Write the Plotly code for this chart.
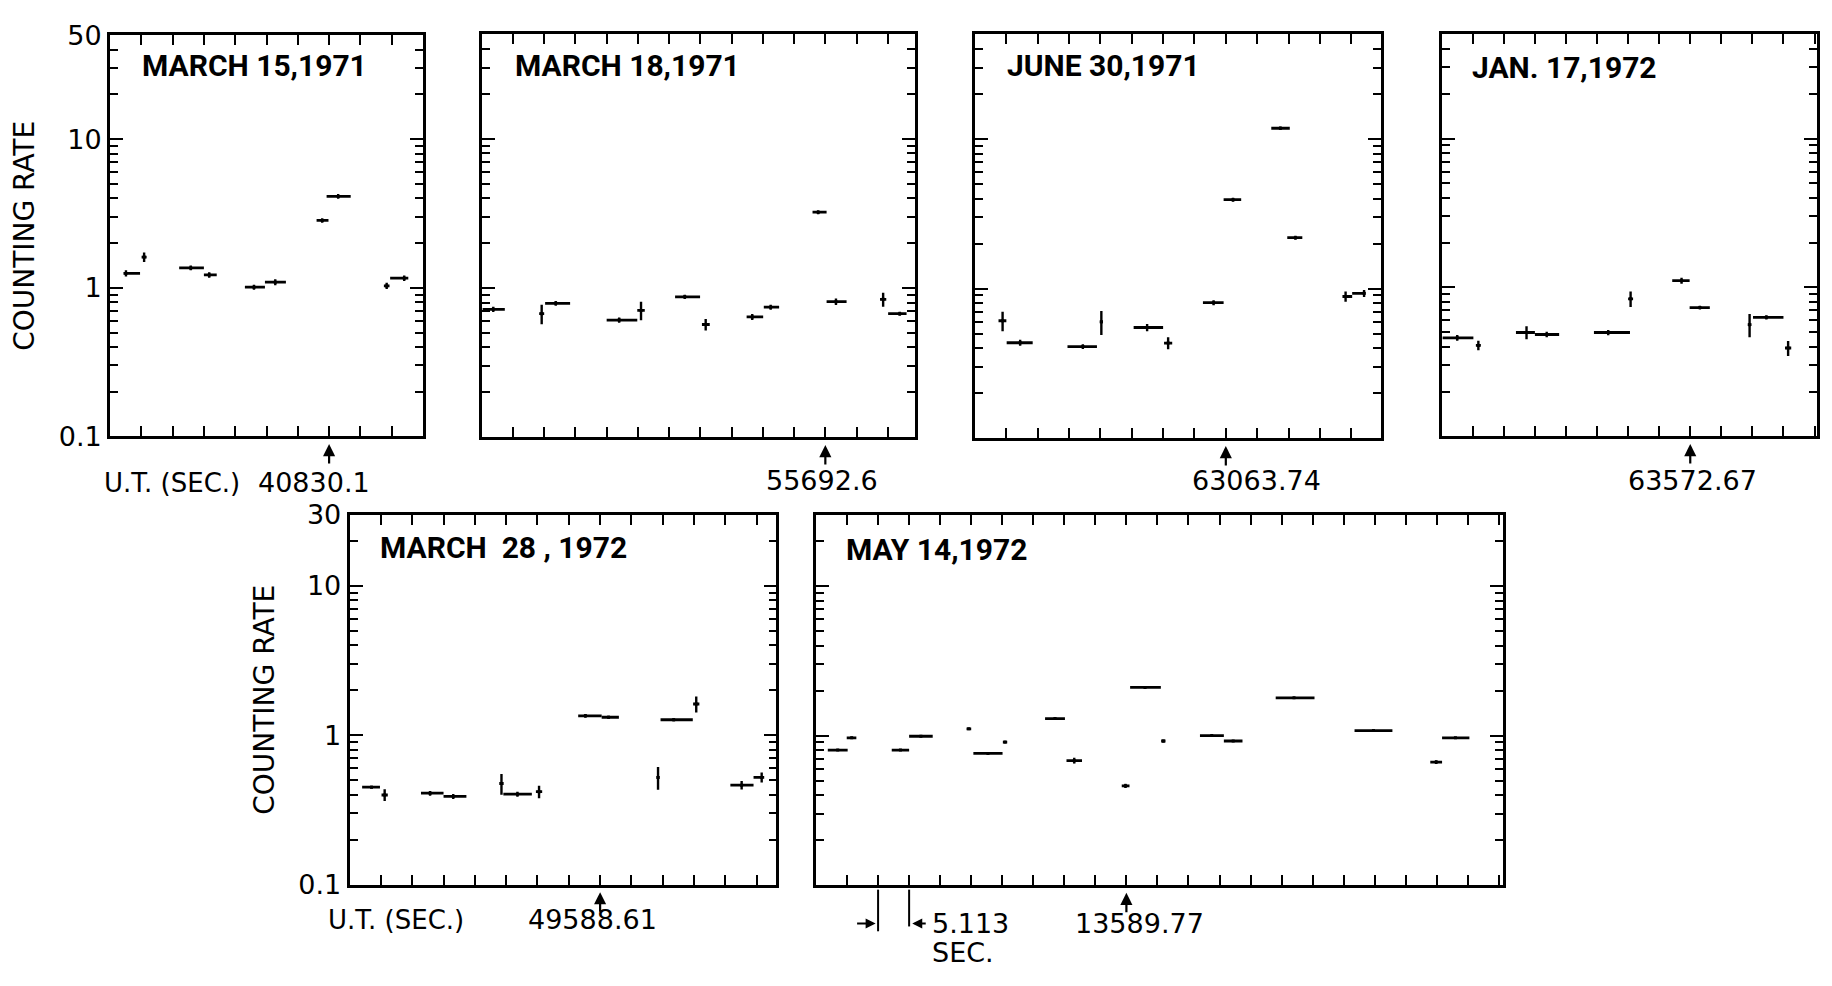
import math
import plotly.graph_objects as go

W, H = 1832, 986
FONT = "DejaVu Sans"
TFONT = "Roboto"

# ---------------- data (x in tick units, y = counting rate) ----------------
titles = ["MARCH\u00a015,1971", "MARCH\u00a018,1971", "JUNE\u00a030,1971", "JAN.\u00a017,1972",
          "MARCH\u00a0\u00a028\u00a0,\u00a01972", "MAY\u00a014,1972"]
ut_labels = ["40830.1", "55692.6", "63063.74", "63572.67", "49588.61", "13589.77"]
arrow_ticks = [7, 11, 8, 8, 8, 10]
x_spans = [10.0, 13.87, 12.94, 12.07, 13.63, 22.12]
y_tops = [50, 50, 50, 50, 30, 30]

# Panel 1: March 15, 1971
p1_xl = [0.43, 1.01, 2.21, 3.00, 4.31, 4.95, 6.60, 6.92, 8.75, 8.95]
p1_xr = [0.96, 1.17, 3.00, 3.41, 4.95, 5.62, 6.98, 7.69, 8.93, 9.53]
p1_xc = [0.51, 1.09, 2.58, 3.17, 4.60, 5.28, 6.78, 7.29, 8.84, 9.40]
p1_y = [1.25, 1.61, 1.36, 1.22, 1.01, 1.09, 2.84, 4.12, 1.03, 1.16]
p1_dy = [0.06, 0.12, 0.05, 0.05, 0.04, 0.05, 0.10, 0.15, 0.05, 0.05]

# Panel 2: March 18, 1971
p2_xl = [0.03, 1.84, 2.03, 4.00, 4.98, 6.19, 7.05, 8.48, 9.03, 10.59, 11.04, 12.75, 13.01]
p2_xr = [0.74, 2.00, 2.83, 4.98, 5.22, 6.99, 7.30, 9.01, 9.52, 11.04, 11.68, 12.95, 13.60]
p2_xc = [0.37, 1.92, 2.37, 4.40, 5.10, 6.50, 7.17, 8.66, 9.25, 10.77, 11.34, 12.85, 13.38]
p2_y = [0.72, 0.673, 0.79, 0.61, 0.708, 0.873, 0.57, 0.64, 0.744, 3.22, 0.81, 0.84, 0.673]
p2_dy = [0.03, 0.10, 0.03, 0.025, 0.10, 0.03, 0.05, 0.03, 0.03, 0.10, 0.04, 0.09, 0.02]

# Panel 3: June 30, 1971
p3_xl = [0.75, 1.01, 2.95, 3.98, 5.06, 6.03, 7.27, 7.93, 9.45, 9.96, 11.72, 12.03]
p3_xr = [1.00, 1.84, 3.89, 4.08, 6.00, 6.29, 7.93, 8.49, 10.04, 10.44, 12.03, 12.46]
p3_xc = [0.88, 1.44, 3.44, 4.03, 5.49, 6.16, 7.61, 8.23, 9.74, 10.22, 11.82, 12.41]
p3_y = [0.61, 0.435, 0.41, 0.60, 0.55, 0.433, 0.806, 3.93, 11.8, 2.19, 0.886, 0.93]
p3_dy = [0.09, 0.02, 0.015, 0.11, 0.03, 0.04, 0.03, 0.12, 0.30, 0.07, 0.07, 0.05]

# Panel 4: Jan. 17, 1972
p4_xl = [0.03, 1.10, 2.39, 3.00, 4.90, 6.00, 7.42, 7.98, 9.85, 10.02, 11.05]
p4_xr = [1.02, 1.26, 3.00, 3.78, 6.06, 6.16, 7.98, 8.63, 9.97, 11.00, 11.25]
p4_xc = [0.50, 1.18, 2.73, 3.38, 5.36, 6.08, 7.72, 8.31, 9.91, 10.45, 11.15]
p4_y = [0.459, 0.408, 0.498, 0.483, 0.498, 0.839, 1.11, 0.732, 0.562, 0.63, 0.392]
p4_dy = [0.02, 0.03, 0.05, 0.02, 0.02, 0.10, 0.05, 0.02, 0.10, 0.02, 0.045]

# Panel 5: March 28, 1972
p5_xl = [0.40, 1.02, 2.28, 3.00, 4.78, 4.91, 5.95, 7.30, 8.05, 9.80, 9.93, 10.97, 12.16, 12.90]
p5_xr = [0.97, 1.22, 3.00, 3.73, 4.92, 5.82, 6.15, 8.05, 8.60, 9.90, 10.96, 11.17, 12.90, 13.24]
p5_xc = [0.70, 1.12, 2.57, 3.31, 4.85, 5.36, 6.05, 7.53, 8.27, 9.85, 10.35, 11.07, 12.52, 13.16]
p5_y = [0.449, 0.398, 0.409, 0.389, 0.475, 0.403, 0.419, 1.35, 1.32, 0.522, 1.27, 1.62, 0.463, 0.522]
p5_dy = [0.01, 0.036, 0.015, 0.015, 0.075, 0.015, 0.04, 0.04, 0.03, 0.09, 0.03, 0.20, 0.03, 0.04]

# Panel 6: May 14, 1972
p6_xl = [0.38, 0.99, 2.44, 3.00, 4.85, 5.07, 6.02, 7.38, 8.07, 9.85, 10.12, 11.12, 12.37, 13.14, 14.81, 17.35, 19.79, 20.17]
p6_xr = [1.02, 1.30, 3.00, 3.76, 5.00, 6.01, 6.16, 8.02, 8.57, 10.10, 11.11, 11.26, 13.14, 13.74, 16.06, 18.57, 20.17, 21.05]
p6_xc = [0.70, 1.15, 2.72, 3.38, 4.92, 5.54, 6.09, 7.70, 8.32, 9.97, 10.60, 11.19, 12.75, 13.44, 15.40, 17.96, 19.98, 20.60]
p6_y = [0.80, 0.966, 0.80, 0.99, 1.11, 0.76, 0.905, 1.30, 0.68, 0.461, 2.10, 0.92, 1.00, 0.92, 1.79, 1.08, 0.665, 0.966]
p6_dy = [0.01, 0.015, 0.01, 0.015, 0.015, 0.01, 0.015, 0.03, 0.03, 0.015, 0.03, 0.02, 0.01, 0.01, 0.01, 0.01, 0.02, 0.01]

panels = [
    (p1_xl, p1_xr, p1_xc, p1_y, p1_dy),
    (p2_xl, p2_xr, p2_xc, p2_y, p2_dy),
    (p3_xl, p3_xr, p3_xc, p3_y, p3_dy),
    (p4_xl, p4_xr, p4_xc, p4_y, p4_dy),
    (p5_xl, p5_xr, p5_xc, p5_y, p5_dy),
    (p6_xl, p6_xr, p6_xc, p6_y, p6_dy),
]

# ---------------- layout geometry (pixels) ----------------
boxes = [  # left, right, top, bottom
    (110, 423, 20, 434),
    (481.7, 915, 19, 435),
    (975, 1380.7, 19, 436),
    (1441.7, 1816.7, 19, 434),
    (349.6, 776.4, 515, 896.7),
    (816, 1502.6, 515, 897.3),
]
title_pos = [(140, 51), (513, 51), (1005, 51), (1470, 53), (378, 549), (844, 551)]
label_pos = [(314, 482), (822, 480), (1256, 480), (1692, 480), (592, 933), (1139, 937)]

fig = go.Figure()
layout = dict(
    width=W, height=H, margin=dict(l=0, r=0, t=0, b=0),
    paper_bgcolor="white", plot_bgcolor="white", showlegend=False,
)
annotations = []
shapes = []


def px(x):
    return x / W


def py(y):
    return 1 - y / H


def ann(text, x, y, size=27, xanchor="left", angle=0, family=FONT, weight="normal"):
    return dict(text=text, x=px(x), y=py(y), xref="paper", yref="paper",
                xanchor=xanchor, yanchor="middle", showarrow=False, textangle=angle,
                font=dict(family=family, size=size, color="black", weight=weight))


for i, (xl, xr, xc, y, dy) in enumerate(panels):
    n = i + 1
    xa = "x" if n == 1 else f"x{n}"
    ya = "y" if n == 1 else f"y{n}"
    fig.add_trace(go.Scatter(
        x=xc, y=y, mode="markers", xaxis=xa, yaxis=ya,
        marker=dict(size=3, color="black", symbol="square"),
        error_x=dict(type="data", symmetric=False,
                     array=[r - c for r, c in zip(xr, xc)],
                     arrayminus=[c - l for l, c in zip(xl, xc)],
                     color="black", thickness=2.8, width=0),
        error_y=dict(type="data", array=dy, color="black", thickness=2.4, width=0),
        hoverinfo="skip",
    ))
    L, R, T, B = boxes[i]
    top = y_tops[i]
    minor_vals = [k / 10 for k in range(2, 10)] + list(range(2, 10)) + [v for v in (20, 30, 40) if v < top]
    show_lbl = n in (1, 5)
    tv = [0.1, 1, 10, top]
    tt = ["0.1", "1", "10", str(top)]
    layout["xaxis" if n == 1 else f"xaxis{n}"] = dict(
        domain=[px(L), px(R)], range=[0, x_spans[i]], anchor=ya,
        showline=True, linecolor="black", linewidth=2.8, mirror="ticks",
        ticks="inside", ticklen=10, tickwidth=2.2, tickcolor="black",
        tickvals=list(range(1, int(math.ceil(x_spans[i])))), showticklabels=False,
        showgrid=False, zeroline=False, fixedrange=True,
    )
    layout["yaxis" if n == 1 else f"yaxis{n}"] = dict(
        domain=[py(B), py(T)], type="log", range=[-1, math.log10(top)], anchor=xa,
        showline=True, linecolor="black", linewidth=2.8, mirror="ticks",
        ticks="inside", ticklen=13, tickwidth=2.2, tickcolor="black",
        tickvals=tv, ticktext=tt, showticklabels=show_lbl,
        tickfont=dict(family=FONT, size=27, color="black"),
        minor=dict(tickvals=minor_vals, ticks="inside", ticklen=8, tickwidth=2, tickcolor="black"),
        showgrid=False, zeroline=False, fixedrange=True,
    )
    # panel title
    annotations.append(ann(titles[i], title_pos[i][0], title_pos[i][1], size=30,
                           family=TFONT, weight="bold"))
    # U.T. label
    annotations.append(ann(ut_labels[i], label_pos[i][0], label_pos[i][1], size=27, xanchor="center"))
    # arrow marking the reference time
    annotations.append(dict(
        x=arrow_ticks[i], xref=xa, y=py(B + 8), yref="paper", ax=0, ay=21,
        axref="pixel", ayref="pixel", text="", showarrow=True,
        arrowhead=2, arrowsize=1.1, arrowwidth=2.2, arrowcolor="black",
    ))

# axis titles / extra texts
annotations.append(ann("COUNTING RATE", 25, 227, size=28, xanchor="center", angle=-90))
annotations.append(ann("COUNTING RATE", 265, 706, size=28, xanchor="center", angle=-90))
annotations.append(ann("U.T. (SEC.)", 102, 482, size=26))
annotations.append(ann("U.T. (SEC.)", 326, 933, size=26))
annotations.append(ann("5.113", 930, 937, size=27))
annotations.append(ann("SEC.", 930, 967, size=27))

# 5.113 s bin-width marker under May 14 panel
annotations.append(dict(x=1.92, xref="x6", y=py(937), yref="paper", ax=-20, ay=0,
                        axref="pixel", ayref="pixel", text="", showarrow=True,
                        arrowhead=2, arrowsize=1, arrowwidth=2, arrowcolor="black"))
annotations.append(dict(x=3.1, xref="x6", y=py(937), yref="paper", ax=15, ay=0,
                        axref="pixel", ayref="pixel", text="", showarrow=True,
                        arrowhead=2, arrowsize=1, arrowwidth=2, arrowcolor="black"))
shapes.append(dict(type="line", xref="x6", yref="paper", x0=2, x1=2, y0=py(902), y1=py(945),
                   line=dict(color="black", width=2)))
shapes.append(dict(type="line", xref="x6", yref="paper", x0=3, x1=3, y0=py(902), y1=py(940),
                   line=dict(color="black", width=2)))

layout["annotations"] = annotations
layout["shapes"] = shapes
fig.update_layout(**layout)
fig.write_html("out.html")
